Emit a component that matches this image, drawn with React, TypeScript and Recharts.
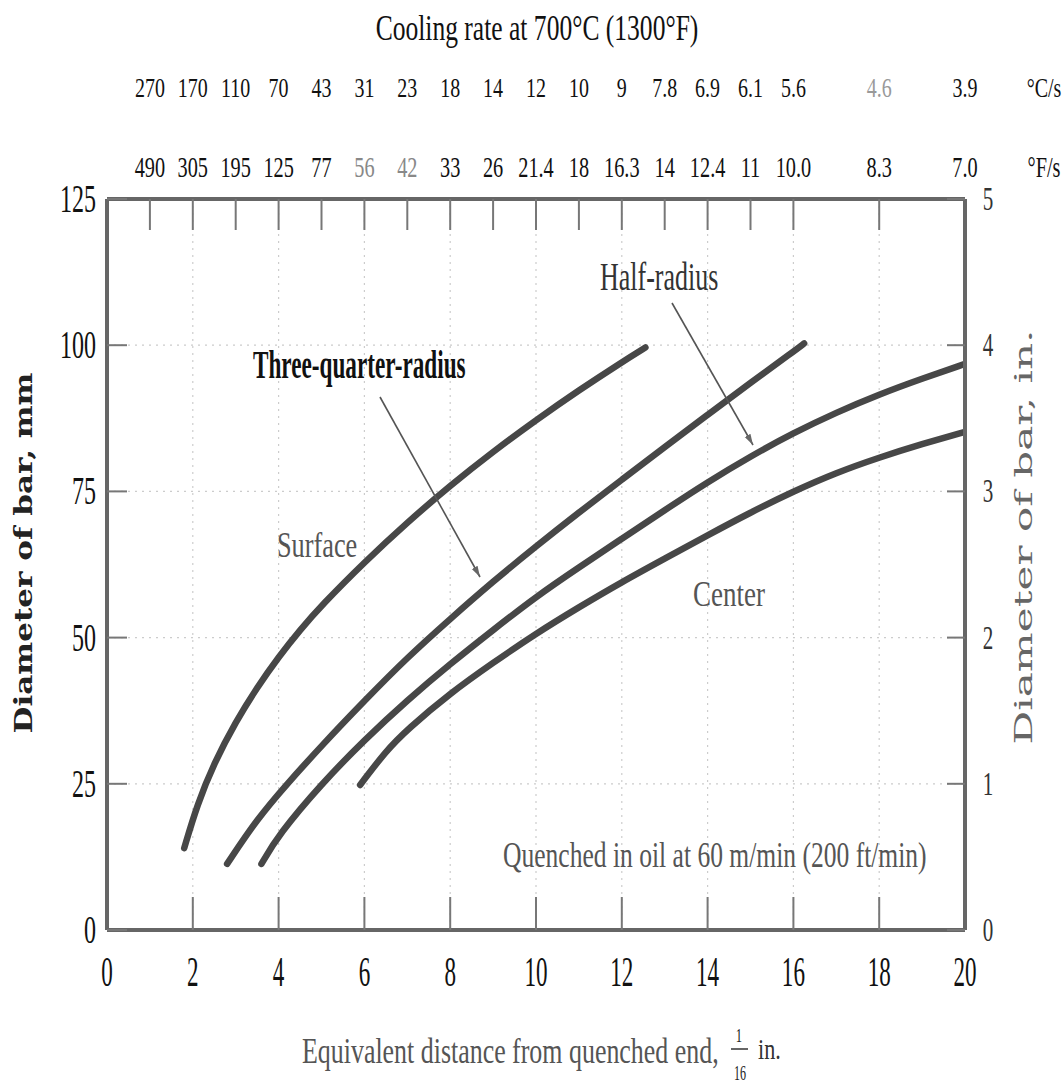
import { LineChart, Line, XAxis, YAxis, CartesianGrid } from "recharts";

// curves: [distance (1/16 in), bar diameter (mm)]
const SURFACE: [number, number][] = [
  [1.8, 14], [2.1, 21.4], [2.5, 28.6], [3, 35.6], [3.5, 41.5], [4, 46.7], [4.5, 51.3], [5, 55.5],
  [6, 62.9], [7, 69.7], [8, 76], [9, 81.8], [10, 87.2], [11, 92.3], [12, 97.1], [12.55, 99.6],
];
const THREE_QUARTER: [number, number][] = [
  [2.8, 11.3], [3.5, 19], [4.2, 25], [5, 31.5], [6, 39.2], [7, 46.6], [8, 53.2], [9, 59.6],
  [10, 65.6], [11, 71.4], [12, 77], [13, 82.6], [14, 88.1], [15, 93.6], [16, 98.9], [16.25, 100.3],
];
const HALF_RADIUS: [number, number][] = [
  [3.6, 11.3], [4, 16.3], [5, 25], [6, 32.5], [7, 39.3], [8, 45.5], [9, 51.3], [10, 57],
  [11, 62], [12, 66.9], [13, 71.8], [14, 76.6], [15, 81], [16, 85], [17, 88.5], [18, 91.6],
  [19, 94.3], [20, 96.8],
];
const CENTER: [number, number][] = [
  [5.9, 24.8], [6.5, 30.6], [7, 34.3], [8, 40.5], [9, 45.7], [10, 50.7], [11, 55.2], [12, 59.5],
  [13, 63.5], [14, 67.5], [15, 71.4], [16, 75], [17, 78.2], [18, 80.8], [19, 83.1], [20, 85.2],
];

const DIST_TICKS = [0, 2, 4, 6, 8, 10, 12, 14, 16, 18, 20];
const MM_TICKS = [0, 25, 50, 75, 100, 125];
const IN_TICKS = [0, 1, 2, 3, 4, 5];

// cooling rate at 700°C, placed at these distances
const RATE_POS = [1, 2, 3, 4, 5, 6, 7, 8, 9, 10, 11, 12, 13, 14, 15, 16, 18, 20];
const RATE_C = ["270", "170", "110", "70", "43", "31", "23", "18", "14", "12", "10", "9", "7.8", "6.9", "6.1", "5.6", "4.6", "3.9"];
const RATE_F = ["490", "305", "195", "125", "77", "56", "42", "33", "26", "21.4", "18", "16.3", "14", "12.4", "11", "10.0", "8.3", "7.0"];

const FAINT_C = [16];
const FAINT_F = [5, 6];

const INK = "#474747";
const SERIF = "'Liberation Serif', 'Times New Roman', serif";
const BORDER = { stroke: "#666", strokeWidth: 4 };
const TICK = { stroke: "#777", strokeWidth: 2 };

const rows = (pts: [number, number][]) => pts.map(([x, y]) => ({ x, y }));

function Narrow({ x, y, size, sx = 0.6, anchor = "middle", fill = "#111", weight = "normal", children }: any) {
  return (
    <text
      transform={`translate(${x} ${y}) scale(${sx} 1)`}
      fontFamily={SERIF}
      fontSize={size}
      textAnchor={anchor}
      fill={fill}
      fontWeight={weight}
    >
      {children}
    </text>
  );
}

function Fit({ x, y, size, len, anchor = "start", fill = "#111", weight = "normal", family = SERIF, children }: any) {
  return (
    <text
      x={x}
      y={y}
      fontFamily={family}
      fontSize={size}
      textAnchor={anchor}
      fill={fill}
      fontWeight={weight}
      textLength={len}
      lengthAdjust="spacingAndGlyphs"
    >
      {children}
    </text>
  );
}

const BottomTick = (p: any) => (
  <Narrow x={p.x} y={986} size={42} sx={0.55}>{p.payload.value}</Narrow>
);
const LeftTick = (p: any) => (
  <Narrow x={96} y={p.y + 13} size={40} sx={0.6} anchor="end">{p.payload.value}</Narrow>
);
const RightTick = (p: any) => (
  <Narrow x={988} y={p.y + 11} size={34} sx={0.62} fill="#333">{p.payload.value}</Narrow>
);
const TopTick = (p: any) => {
  const i = RATE_POS.indexOf(p.payload.value);
  return (
    <g>
      <Narrow x={p.x} y={97} size={27} sx={0.74} fill={FAINT_C.includes(i) ? "#999" : "#111"}>{RATE_C[i]}</Narrow>
      <Narrow x={p.x} y={177} size={29} sx={0.7} fill={FAINT_F.includes(i) ? "#888" : "#111"}>{RATE_F[i]}</Narrow>
    </g>
  );
};

export default function App() {
  return (
    <div style={{ position: "absolute", left: 0, top: 0, width: 1063, height: 1088, background: "#fff" }}>
      <LineChart width={1063} height={1088} margin={{ top: 9, right: 8, bottom: 58, left: 7 }}>
        <CartesianGrid xAxisId="b" yAxisId="mm" stroke="#cccccc" strokeDasharray="2 5" strokeWidth={1.2} />
        <XAxis
          xAxisId="b"
          type="number"
          dataKey="x"
          domain={[0, 20]}
          ticks={DIST_TICKS}
          interval={0}
          height={100}
          tickSize={-33}
          axisLine={BORDER}
          tickLine={TICK}
          tick={BottomTick}
          allowDataOverflow
        />
        <XAxis
          xAxisId="t"
          orientation="top"
          type="number"
          dataKey="x"
          domain={[0, 20]}
          ticks={RATE_POS}
          interval={0}
          height={190}
          tickSize={-31}
          axisLine={BORDER}
          tickLine={TICK}
          tick={TopTick}
          allowDataOverflow
        />
        <YAxis
          yAxisId="mm"
          type="number"
          domain={[0, 125]}
          ticks={MM_TICKS}
          interval={0}
          width={100}
          tickSize={-20}
          axisLine={BORDER}
          tickLine={TICK}
          tick={LeftTick}
          allowDataOverflow
        />
        <YAxis
          yAxisId="in"
          orientation="right"
          type="number"
          domain={[0, 5]}
          ticks={IN_TICKS}
          interval={0}
          width={90}
          tickSize={-18}
          axisLine={BORDER}
          tickLine={TICK}
          tick={RightTick}
          allowDataOverflow
        />
        {[SURFACE, THREE_QUARTER, HALF_RADIUS, CENTER].map((s, i) => (
          <Line
            key={i}
            xAxisId="b"
            yAxisId="mm"
            data={rows(s)}
            dataKey="y"
            type="basis"
            stroke={INK}
            strokeWidth={6.5}
            strokeLinecap="round"
            dot={false}
            activeDot={false}
            isAnimationActive={false}
          />
        ))}
      </LineChart>

      <svg width={1063} height={1088} style={{ position: "absolute", left: 0, top: 0, pointerEvents: "none" }}>
        <defs>
          <marker id="head" viewBox="0 0 10 10" refX="10" refY="5" markerWidth="11" markerHeight="11" markerUnits="userSpaceOnUse" orient="auto">
            <path d="M0,2 L10,5 L0,8 z" fill="#666" />
          </marker>
        </defs>

        <Narrow x={537} y={40} size={36} sx={0.71}>Cooling rate at 700°C (1300°F)</Narrow>
        <Narrow x={1044} y={97} size={27} sx={0.74}>°C/s</Narrow>
        <Narrow x={1044} y={177} size={29} sx={0.7}>°F/s</Narrow>

        <g transform="translate(32 553) rotate(-90)">
          <Fit x={0} y={0} size={25} len={361} anchor="middle" fill="#222" weight="bold" family="'DejaVu Serif', serif">
            Diameter of bar, mm
          </Fit>
        </g>
        <g transform="translate(1032 537) rotate(-90)">
          <Fit x={0} y={0} size={24} len={415} anchor="middle" fill="#666" family="'DejaVu Serif', serif">
            Diameter of bar, in.
          </Fit>
        </g>

        <Narrow x={302} y={1063} size={36} sx={0.72} anchor="start" fill="#555">Equivalent distance from quenched end,</Narrow>
        <Narrow x={739} y={1042} size={18} sx={0.7} fill="#222">1</Narrow>
        <line x1={731} y1={1049} x2={748} y2={1049} stroke="#333" strokeWidth={1.5} />
        <Narrow x={740} y={1080} size={20} sx={0.6} fill="#222">16</Narrow>
        <Narrow x={758} y={1059} size={30} sx={0.74} anchor="start" fill="#333">in.</Narrow>

        <Narrow x={277} y={557} size={36} sx={0.73} anchor="start" fill="#555">Surface</Narrow>
        <Narrow x={253} y={378} size={40} sx={0.58} anchor="start" weight="bold">Three-quarter-radius</Narrow>
        <Narrow x={600} y={290} size={40} sx={0.65} anchor="start" fill="#333">Half-radius</Narrow>
        <Narrow x={693} y={606} size={36} sx={0.75} anchor="start" fill="#555">Center</Narrow>
        <Narrow x={503} y={867} size={36} sx={0.71} anchor="start" fill="#555">Quenched in oil at 60 m/min (200 ft/min)</Narrow>

        <line x1={380} y1={397} x2={480} y2={577} stroke="#555" strokeWidth={1.6} markerEnd="url(#head)" />
        <line x1={672} y1={303} x2={753} y2={445} stroke="#555" strokeWidth={1.6} markerEnd="url(#head)" />
      </svg>
    </div>
  );
}
